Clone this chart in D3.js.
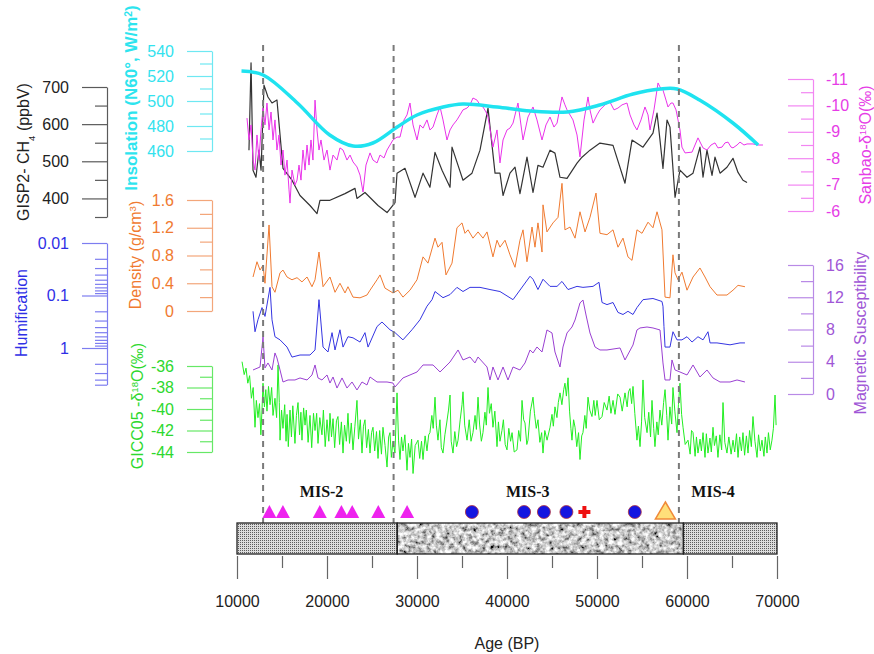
<!DOCTYPE html>
<html>
<head>
<meta charset="utf-8">
<script src="https://cdn.jsdelivr.net/npm/d3@7"></script>
<style>
  body { margin: 0; background: #fff; }
  svg text { font-family: "Liberation Sans", Arial, sans-serif; }
</style>
</head>
<body>
<svg id="chart" width="874" height="654">
  <defs>
    <pattern id="fine" width="2" height="2" patternUnits="userSpaceOnUse">
      <rect width="2" height="2" fill="#dcdcdc"></rect>
      <rect width="1" height="1" fill="#5c5c5c"></rect>
    </pattern>
    <filter id="granite" x="0" y="0" width="1" height="1">
      <feTurbulence type="fractalNoise" baseFrequency="0.22" numOctaves="3" seed="7"></feTurbulence>
      <feColorMatrix type="matrix" values="1.8 0 0 0 -0.32  1.8 0 0 0 -0.32  1.8 0 0 0 -0.32  0 0 0 0 1"></feColorMatrix>
    </filter>
  </defs>
</svg>
<script>
// ---- data (age in years BP) ----
var ch4 = [[11330,530],[11560,765],[11780,476],[12110,457],[12440,530],[12670,476],[13000,705],[13440,673],[13890,657],[14440,665],[15110,481],[16110,449],[17000,408],[18110,381],[18890,359],[19220,395],[20330,395],[22000,413],[23110,427],[23330,400],[24220,416],[25670,381],[26670,362],[27560,389],[27780,468],[28670,481],[29780,403],[30670,468],[31440,430],[32000,524],[32780,476],[33670,430],[33890,538],[34560,489],[35110,449],[36110,468],[37000,530],[37890,643],[38670,468],[39220,468],[39560,408],[40330,468],[40890,484],[41440,413],[42220,511],[42890,416],[43440,489],[44000,484],[44780,530],[45330,522],[45890,457],[46670,454],[47780,495],[48330,511],[49220,530],[50330,549],[51780,543],[53110,441],[53890,557],[55110,538],[56220,576],[56670,630],[57000,557],[57330,481],[57780,611],[58110,592],[58670,403],[59220,476],[60000,457],[60670,468],[61440,538],[61780,457],[62220,530],[62780,462],[63110,511],[63670,468],[64440,484],[65110,508],[65670,470],[66220,449],[66670,443]];

var insolation = [[10500,524],[12900,520.8],[16700,498.4],[20300,472.8],[22900,464],[25100,466.4],[27800,479.2],[30000,488.8],[32900,495.2],[35100,497.6],[38900,495.2],[42600,492],[46700,491.2],[50300,496.8],[54000,505.6],[57000,509.6],[58900,509.6],[61400,500.8],[65100,482.4],[67900,464.8]];

var sanbao = [[11110,-9.52],[11330,-8.69],[11560,-9.26],[11780,-7.93],[12000,-7.55],[12220,-8.88],[12440,-7.93],[12670,-9.07],[12890,-9.90],[13110,-9.26],[13330,-10.09],[13560,-9.07],[13780,-9.75],[14000,-8.69],[14220,-9.45],[14440,-8.31],[14670,-8.88],[14890,-7.74],[15110,-8.31],[15330,-7.36],[15560,-7.93],[15780,-6.80],[15890,-6.30],[16110,-7.55],[16440,-6.98],[16670,-7.17],[16890,-7.74],[17110,-7.17],[17330,-8.31],[17560,-7.55],[17780,-8.50],[18000,-7.74],[18220,-8.69],[18440,-7.93],[18670,-10.20],[18890,-9.07],[19110,-8.31],[19330,-8.69],[19670,-7.93],[20000,-8.31],[20330,-7.55],[20670,-8.12],[21110,-7.93],[21440,-8.39],[21780,-8.31],[22220,-7.93],[22560,-8.12],[22890,-7.86],[23330,-7.67],[23670,-7.36],[24000,-6.72],[24330,-7.74],[24780,-8.20],[25110,-7.93],[25560,-7.82],[25890,-8.12],[26330,-8.01],[26670,-8.31],[27000,-8.50],[27330,-8.69],[27780,-8.80],[28110,-8.80],[28560,-9.45],[28890,-9.64],[29220,-10.09],[29560,-9.26],[30000,-8.69],[30330,-9.26],[30670,-9.14],[31110,-9.45],[31440,-9.07],[31780,-9.18],[32220,-9.64],[32560,-9.94],[32890,-9.45],[33330,-8.69],[33670,-9.07],[34000,-9.26],[34440,-9.45],[34780,-9.64],[35110,-9.83],[35560,-9.90],[35890,-10.02],[36220,-10.28],[36670,-10.20],[37000,-10.02],[37330,-9.94],[37670,-9.75],[37890,-9.56],[38220,-8.88],[38440,-8.42],[38890,-9.07],[39220,-7.82],[39560,-8.69],[40000,-9.07],[40330,-9.14],[40670,-9.33],[41220,-10.09],[41780,-8.69],[42330,-9.56],[42890,-9.94],[43330,-9.45],[43890,-8.69],[44330,-9.26],[44780,-9.56],[45220,-9.18],[45560,-9.33],[46110,-10.32],[46440,-10.02],[46670,-9.83],[47000,-9.64],[47330,-9.45],[47780,-8.88],[48110,-8.05],[48560,-9.45],[49000,-10.32],[49220,-9.83],[49560,-9.33],[50000,-9.64],[50330,-9.83],[50890,-10.02],[51440,-10.13],[51890,-9.83],[52330,-9.90],[52780,-10.02],[53330,-10.09],[53670,-9.64],[54110,-9.26],[54440,-9.07],[54890,-9.45],[55330,-9.94],[55670,-9.64],[55890,-9.07],[56330,-9.83],[56780,-10.85],[57000,-10.70],[57330,-10.58],[57670,-10.20],[57890,-9.94],[58220,-10.09],[58440,-10.09],[58780,-9.83],[59000,-9.45],[59220,-9.07],[59440,-8.42],[59780,-8.20],[60560,-8.23],[61220,-8.77],[61780,-8.39],[62220,-8.31],[62670,-8.50],[63110,-8.58],[63440,-8.39],[63890,-8.42],[64220,-8.58],[64560,-8.61],[64890,-8.42],[65110,-8.39],[65560,-8.50],[65890,-8.61],[66330,-8.50],[66670,-8.54],[67330,-8.54],[67890,-8.50],[68440,-8.50]];

var density = [[11780,0.49],[12220,0.71],[12560,0.59],[12890,0.66],[13110,0.40],[13560,1.24],[13890,0.35],[14220,0.27],[14780,0.55],[15110,0.59],[15560,0.49],[16110,0.45],[16670,0.48],[17220,0.42],[17780,0.49],[18330,0.35],[18670,0.45],[19110,0.85],[19560,0.35],[20330,0.49],[20890,0.27],[21440,0.40],[22000,0.26],[22330,0.35],[22890,0.20],[23670,0.19],[24440,0.23],[24780,0.30],[25560,0.45],[25890,0.52],[26440,0.33],[27330,0.26],[27890,0.30],[28440,0.20],[29220,0.30],[30000,0.45],[30670,0.78],[31220,0.69],[32000,1.05],[32330,0.92],[32780,0.99],[33220,0.52],[33890,0.69],[34440,1.20],[35000,1.27],[35330,1.12],[35670,1.17],[36220,1.05],[36780,1.14],[37330,1.05],[37780,1.14],[38440,0.78],[38890,1.02],[39220,0.92],[39780,1.02],[40330,0.81],[40890,0.63],[41440,1.02],[41780,1.17],[42220,0.71],[42780,1.21],[43110,0.92],[43440,1.27],[43890,0.85],[44000,1.53],[44440,1.14],[45110,1.27],[45670,1.35],[46110,1.84],[46440,1.17],[47000,1.21],[47560,1.05],[48110,1.43],[48670,1.14],[49220,1.35],[49890,1.70],[50330,1.12],[51110,1.10],[51780,1.17],[52330,0.92],[52890,1.05],[53440,0.78],[53890,0.73],[54440,1.17],[55000,1.12],[55670,1.28],[56220,1.20],[56670,1.43],[57220,1.17],[57560,0.20],[58110,0.19],[58440,0.81],[58670,0.55],[59000,0.45],[59440,0.56],[60000,0.30],[60670,0.49],[61440,0.62],[62000,0.49],[62560,0.35],[63330,0.23],[64440,0.23],[65110,0.30],[65670,0.37],[66440,0.35]];

var humification = [[11780,0.20],[12000,0.49],[12330,0.29],[12780,0.17],[13110,0.25],[13670,0.070],[13890,0.29],[14220,0.61],[14780,0.70],[15560,0.96],[16110,1.49],[17000,1.36],[18110,1.36],[18670,1.09],[19110,0.12],[19560,0.96],[20110,1.19],[20560,0.51],[20890,1.09],[21440,0.45],[21780,0.96],[22330,0.61],[22890,0.64],[23670,0.77],[24220,0.51],[24560,0.96],[25560,0.39],[26110,0.32],[27000,0.45],[27560,0.51],[28440,0.70],[29440,0.45],[30330,0.29],[31110,0.16],[31670,0.12],[32000,0.084],[32890,0.11],[33670,0.096],[34440,0.070],[35110,0.084],[35890,0.070],[37000,0.070],[38110,0.077],[39220,0.084],[40670,0.12],[42560,0.043],[42890,0.049],[43440,0.077],[44000,0.049],[44780,0.067],[45560,0.067],[46110,0.054],[46780,0.077],[47780,0.067],[48440,0.070],[49560,0.067],[50220,0.056],[50560,0.136],[51110,0.149],[51780,0.136],[52330,0.21],[52890,0.23],[53440,0.20],[54000,0.23],[54440,0.17],[55110,0.12],[56220,0.114],[57220,0.13],[57330,0.16],[57440,0.39],[57560,0.96],[58110,0.96],[58440,0.49],[58890,0.70],[59440,0.70],[60000,0.61],[60560,0.77],[61220,0.61],[61780,0.70],[62330,0.49],[62560,0.80],[63330,0.80],[64780,0.87],[65890,0.80],[66440,0.80]];

var magsus = [[11780,2.98],[12560,3.35],[12890,7.07],[13110,3.23],[13440,3.85],[13890,2.98],[14220,5.09],[14440,4.47],[14780,2.98],[15110,1.49],[15670,1.74],[16440,1.74],[17000,1.99],[17780,1.74],[18330,2.36],[18670,3.60],[19000,1.99],[19440,1.74],[20000,2.36],[20330,1.36],[20670,2.11],[21110,0.74],[21670,1.99],[22220,0.74],[22780,1.49],[23330,0.50],[23890,1.49],[24440,1.12],[24780,2.11],[25560,1.49],[26670,1.49],[27330,1.36],[27560,0.87],[28440,1.99],[30000,2.73],[30670,3.60],[31780,3.60],[32560,2.73],[33670,3.97],[34560,5.46],[35110,4.22],[35890,4.59],[36440,3.85],[36780,4.59],[37780,3.35],[38110,1.74],[38440,3.35],[39000,1.74],[39560,3.35],[40110,1.74],[40670,3.35],[41440,2.98],[42000,3.85],[42560,5.46],[42890,5.09],[43330,5.83],[43890,5.21],[44440,7.94],[45000,7.57],[45330,5.21],[45890,3.35],[46220,5.83],[46670,7.57],[47220,8.31],[47560,9.18],[48110,11.29],[48440,11.66],[48780,9.80],[49220,7.57],[49780,5.83],[50330,5.46],[51110,5.46],[52560,5.71],[53110,4.22],[54000,6.08],[54440,7.94],[54780,8.19],[55560,8.31],[56220,8.19],[57000,7.94],[57330,3.85],[57560,1.74],[58110,1.74],[58330,4.22],[58670,2.98],[59220,2.73],[60000,2.36],[60670,3.60],[61440,2.11],[62220,2.98],[62890,1.99],[63670,1.49],[64780,1.49],[65560,1.74],[66440,1.49]];

var gicc05 = [[10560,-35.6],[10800,-36.8],[11000,-36.2],[11200,-37.6],[11400,-36.9],[11600,-39.0],[11800,-38.0],[12000,-41.7],[12150,-39.2],[12330,-40.8],[12500,-39.5],[12650,-42.4],[12780,-40.0],[12890,-37.6],[13050,-39.8],[13200,-38.2],[13330,-40.2],[13500,-37.9],[13670,-39.6],[13850,-38.0],[14000,-40.6],[14220,-39.0],[14400,-40.8],[14560,-35.9],[14700,-39.4],[14780,-42.9],[14950,-40.1],[15110,-41.8],[15300,-39.6],[15450,-43.0],[15560,-40.5],[15700,-43.5],[15890,-40.1],[16050,-42.6],[16200,-39.7],[16440,-43.2],[16600,-40.6],[16780,-39.4],[16950,-42.4],[17100,-40.3],[17220,-42.9],[17400,-39.9],[17560,-41.5],[17700,-40.1],[17900,-43.1],[18110,-40.6],[18300,-43.6],[18500,-40.4],[18670,-42.0],[18850,-40.4],[19000,-43.2],[19200,-40.8],[19440,-42.4],[19600,-40.1],[19800,-43.5],[20000,-41.0],[20200,-43.0],[20330,-40.4],[20500,-42.6],[20670,-40.9],[20850,-43.6],[21050,-41.1],[21220,-40.7],[21400,-43.3],[21600,-41.2],[21780,-44.1],[21950,-41.5],[22150,-43.0],[22330,-40.4],[22500,-43.2],[22700,-41.3],[22890,-43.8],[23100,-41.6],[23330,-39.2],[23500,-42.8],[23700,-41.0],[23890,-44.1],[24050,-41.6],[24220,-41.0],[24400,-43.6],[24600,-41.9],[24780,-44.1],[24950,-42.2],[25110,-41.7],[25300,-43.9],[25500,-42.1],[25670,-44.6],[25850,-42.0],[26050,-44.2],[26220,-41.7],[26450,-43.4],[26670,-45.4],[26850,-42.6],[27000,-42.2],[27150,-44.5],[27330,-43.0],[27550,-44.1],[27780,-38.5],[27950,-42.9],[28110,-44.7],[28280,-42.6],[28440,-43.9],[28650,-42.4],[28890,-45.7],[29050,-43.2],[29220,-44.5],[29400,-42.8],[29560,-46.0],[29800,-43.4],[30110,-42.9],[30300,-44.6],[30500,-43.0],[30670,-44.7],[30900,-42.5],[31110,-43.9],[31300,-42.4],[31440,-42.2],[31650,-40.6],[31800,-41.8],[32000,-38.9],[32150,-41.5],[32330,-42.9],[32550,-41.0],[32700,-43.6],[32890,-44.1],[33100,-42.4],[33300,-41.3],[33500,-40.1],[33670,-38.7],[33800,-43.0],[34000,-44.1],[34200,-42.1],[34400,-43.5],[34560,-42.9],[34800,-41.0],[35000,-39.6],[35110,-38.4],[35300,-41.5],[35560,-42.9],[35800,-41.0],[36000,-43.0],[36220,-42.2],[36450,-40.6],[36600,-41.9],[36780,-38.9],[36950,-41.4],[37150,-43.0],[37330,-42.2],[37550,-40.3],[37700,-41.5],[37890,-38.0],[38050,-40.4],[38250,-39.5],[38440,-41.7],[38650,-40.2],[38890,-43.5],[39050,-41.2],[39220,-43.0],[39440,-42.0],[39600,-41.0],[39800,-43.3],[40000,-43.8],[40200,-41.8],[40400,-43.0],[40560,-42.2],[40800,-44.0],[41110,-43.8],[41300,-42.0],[41500,-43.0],[41670,-39.2],[41850,-41.0],[42000,-41.3],[42200,-43.3],[42330,-42.9],[42600,-40.2],[42890,-38.9],[43050,-40.4],[43250,-41.8],[43440,-41.0],[43650,-43.1],[43850,-42.2],[44000,-44.1],[44200,-42.0],[44450,-42.9],[44780,-41.7],[45000,-40.5],[45150,-41.6],[45330,-39.8],[45550,-40.8],[45700,-39.4],[45890,-38.5],[46100,-39.6],[46300,-38.2],[46440,-37.6],[46600,-38.8],[46780,-37.1],[46950,-40.2],[47100,-41.8],[47220,-42.9],[47400,-41.0],[47560,-41.7],[47750,-43.5],[47950,-42.2],[48110,-44.7],[48300,-42.5],[48440,-42.2],[48650,-40.6],[48800,-41.8],[49000,-38.9],[49200,-40.1],[49440,-40.7],[49650,-39.2],[49800,-40.6],[50000,-39.2],[50250,-41.0],[50560,-40.7],[50800,-39.4],[51110,-40.1],[51350,-38.8],[51550,-40.4],[51780,-39.2],[52000,-40.5],[52300,-38.6],[52560,-38.9],[52800,-40.2],[53110,-38.5],[53350,-39.8],[53500,-38.4],[53670,-38.1],[53850,-39.5],[54000,-37.9],[54200,-40.4],[54440,-42.9],[54600,-41.6],[54780,-43.5],[54950,-41.2],[55110,-37.3],[55300,-40.8],[55560,-42.2],[55750,-40.3],[55950,-42.6],[56110,-39.2],[56300,-41.8],[56440,-43.5],[56650,-41.2],[56800,-42.4],[57000,-40.1],[57200,-41.5],[57400,-39.4],[57560,-38.2],[57750,-40.6],[57890,-42.9],[58100,-39.8],[58300,-41.4],[58440,-38.0],[58650,-40.2],[58890,-42.2],[59050,-39.6],[59220,-37.6],[59400,-40.5],[59560,-41.7],[59800,-43.3],[60110,-42.9],[60350,-44.2],[60500,-42.0],[60670,-42.2],[60900,-44.4],[61050,-42.6],[61220,-44.1],[61450,-42.8],[61600,-43.9],[61780,-42.2],[62000,-44.5],[62150,-42.3],[62330,-44.1],[62550,-42.7],[62700,-44.0],[62890,-41.7],[63050,-43.4],[63250,-42.5],[63440,-44.5],[63650,-42.4],[63850,-43.8],[64000,-39.4],[64200,-43.1],[64440,-44.1],[64650,-42.6],[64900,-44.2],[65110,-42.9],[65300,-44.0],[65500,-42.3],[65670,-44.5],[65850,-42.6],[66050,-43.9],[66220,-42.2],[66400,-44.3],[66600,-42.5],[66780,-44.1],[66950,-42.0],[67150,-43.5],[67330,-40.7],[67550,-43.0],[67780,-44.5],[67950,-42.4],[68150,-43.9],[68330,-42.9],[68550,-44.4],[68700,-42.6],[68890,-44.1],[69050,-42.2],[69250,-43.8],[69440,-42.9],[69600,-41.8],[69780,-38.7],[69900,-41.5]];

// event lines, lithology, dated samples
var dashAges = [12900, 27400, 59100];
var lithology = [[10000, 27800, 'fine'], [27800, 59600, 'granite'], [59600, 70000, 'fine']];
var misLabels = [['MIS-2', 19400], ['MIS-3', 42300], ['MIS-4', 62900]];
var triAges = [13600, 15100, 19200, 21600, 22800, 25700, 28900];
var circleAges = [36100, 41900, 44100, 46600, 54200];
var crossAges = [48600];
var yellowAges = [57600];

// tick values
var xTicks = [10000, 20000, 30000, 40000, 50000, 60000, 70000];
var xMinor = [15000, 25000, 35000, 45000, 55000, 65000];
var ch4Ticks = [400, 500, 600, 700], ch4Minor = [350, 450, 550, 650];
var insTicks = [460, 480, 500, 520, 540], insMinor = [470, 490, 510, 530];
var denTicks = [0, 0.4, 0.8, 1.2, 1.6], denMinor = [0.2, 0.6, 1.0, 1.4];
var humTicks = [0.01, 0.1, 1], humMinor = [0.02, 0.03, 0.04, 0.05, 0.06, 0.07, 0.08, 0.09, 0.2, 0.3, 0.4, 0.5, 0.6, 0.7, 0.8, 0.9, 2, 3, 4, 5];
var gicTicks = [-44, -42, -40, -38, -36], gicMinor = [-43, -41, -39, -37];
var sanTicks = [-11, -10, -9, -8, -7, -6], sanMinor = [-10.5, -9.5, -8.5, -7.5, -6.5];
var magTicks = [0, 4, 8, 12, 16], magMinor = [2, 6, 10, 14];

var svg = d3.select('#chart');

var x = d3.scaleLinear().domain([10000, 70000]).range([237, 777]);
var yCH4 = d3.scaleLinear().domain([350, 700]).range([217, 87]);
var yIns = d3.scaleLinear().domain([460, 540]).range([151, 51]);
var ySan = d3.scaleLinear().domain([-11, -6]).range([79, 211]);
var yDen = d3.scaleLinear().domain([0, 1.6]).range([311, 200]);
var yHum = d3.scaleLog().domain([0.01, 5]).range([243, 384.7]);
var yMag = d3.scaleLinear().domain([0, 16]).range([394, 265]);
var yGic = d3.scaleLinear().domain([-44, -36]).range([452, 366]);

function drawAxis(scale, xPos, major, minor, fmt, lineColor, textColor, side) {
  var g = svg.append('g').attr('transform', 'translate(' + xPos + ',0)');
  var ax = side === 'right' ? d3.axisRight : d3.axisLeft;
  var k = side === 'right' ? -1 : 1;
  g.append('g').call(ax(scale).tickValues(minor).tickSize(12 * k).tickSizeOuter(0).tickFormat(''))
    .select('.domain').remove();
  g.append('g').call(ax(scale).tickValues(major).tickSize(25 * k).tickSizeOuter(0).tickPadding(13).tickFormat(fmt));
  g.selectAll('line, path').attr('stroke', lineColor).attr('stroke-width', 1.2);
  g.selectAll('text').attr('fill', textColor).attr('font-size', 16)
    .attr('font-family', '"Liberation Sans", Arial, sans-serif');
}

function vTitle(cx, cy, color, parts, bold, size) {
  var t = svg.append('text')
    .attr('transform', 'translate(' + cx + ',' + cy + ') rotate(-90)')
    .attr('text-anchor', 'middle')
    .attr('dy', '0.35em')
    .attr('fill', color)
    .attr('font-size', size || 16)
    .attr('font-weight', bold ? 'bold' : 'normal');
  parts.forEach(function(p) {
    var s = t.append('tspan').text(p[0]);
    if (p[1]) s.attr('baseline-shift', p[1]).attr('font-size', (size || 16) * 0.6);
  });
}

var plain = function(d) { return String(d); };

drawAxis(yCH4, 107, ch4Ticks, ch4Minor, plain, '#5a5a5a', '#222', 'left');
drawAxis(yIns, 212, insTicks, insMinor, plain, '#6ee8f2', '#33e2ee', 'left');
drawAxis(yDen, 212, denTicks, denMinor, function(d) { return d === 0 ? '0' : d3.format('.1f')(d); }, '#f3a67a', '#f07a30', 'left');
drawAxis(yHum, 107, humTicks, humMinor, plain, '#7d7df0', '#2f2fe6', 'left');
drawAxis(yGic, 212, gicTicks, gicMinor, plain, '#66e866', '#2ed82e', 'left');
drawAxis(ySan, 813, sanTicks, sanMinor, plain, '#f286f2', '#e63ce6', 'right');
drawAxis(yMag, 813, magTicks, magMinor, plain, '#b98ae6', '#a056d6', 'right');

vTitle(23, 152, '#222', [['GISP2- CH'], ['4', 'sub'], [' (ppbV)']]);
vTitle(131, 98, '#2ee4ee', [['Insolation (N60°, W/m'], ['2', 'super'], [')']], true, 17);
vTitle(135, 255, '#f07a30', [['Density (g/cm'], ['3', 'super'], [')']]);
vTitle(21, 313, '#2f2fe6', [['Humification']]);
vTitle(137, 406, '#2ed82e', [['GICC05 -δ'], ['18', 'super'], ['O(‰)']]);
vTitle(865, 145, '#e63ce6', [['Sanbao-δ'], ['18', 'super'], ['O(‰)']]);
vTitle(860, 333, '#a056d6', [['Magnetic Susceptibility']]);

function series(data, yScale, color, width, curve) {
  var line = d3.line()
    .x(function(d) { return x(d[0]); })
    .y(function(d) { return yScale(d[1]); })
    .curve(curve || d3.curveLinear);
  svg.append('path').datum(data)
    .attr('d', line)
    .attr('fill', 'none')
    .attr('stroke', color)
    .attr('stroke-width', width)
    .attr('stroke-linejoin', 'round');
}

series(gicc05, yGic, '#22ee22', 1);
series(magsus, yMag, '#9a40d2', 1);
series(humification, yHum, '#3535e2', 1);
series(density, yDen, '#f07a30', 1);
series(ch4, yCH4, '#333333', 1.2);
series(sanbao, ySan, '#ea32ea', 1);
series(insolation, yIns, '#1fe3f0', 3.5, d3.curveCatmullRom);

// dashed event lines
svg.selectAll('.dash').data(dashAges).enter().append('line')
  .attr('x1', function(d) { return x(d); }).attr('x2', function(d) { return x(d); })
  .attr('y1', 45).attr('y2', 523)
  .attr('stroke', '#7a7a7a').attr('stroke-width', 2).attr('stroke-dasharray', '6,5');

// MIS labels
svg.selectAll('.mis').data(misLabels).enter().append('text')
  .attr('x', function(d) { return x(d[1]); }).attr('y', 497)
  .attr('text-anchor', 'middle')
  .style('font-family', '"Liberation Serif", "Times New Roman", serif')
  .attr('font-weight', 'bold').attr('font-size', 16).attr('fill', '#111')
  .text(function(d) { return d[0]; });

// dated samples
var my = 512;
svg.selectAll('.tri').data(triAges).enter().append('path')
  .attr('d', 'M0,-7L7,6L-7,6Z')
  .attr('transform', function(d) { return 'translate(' + x(d) + ',' + my + ')'; })
  .attr('fill', '#ee22ee');
svg.selectAll('.dot').data(circleAges).enter().append('circle')
  .attr('cx', function(d) { return x(d); }).attr('cy', my).attr('r', 6.5)
  .attr('fill', '#1515e0').attr('stroke', '#b03040').attr('stroke-width', 0.8);
crossAges.forEach(function(d) {
  var g = svg.append('g').attr('transform', 'translate(' + x(d) + ',' + my + ')');
  g.append('line').attr('x1', -6).attr('x2', 6).attr('stroke', '#ee1111').attr('stroke-width', 4);
  g.append('line').attr('y1', -6).attr('y2', 6).attr('stroke', '#ee1111').attr('stroke-width', 4);
});
svg.selectAll('.ytri').data(yellowAges).enter().append('path')
  .attr('d', 'M0,-10L10,7L-10,7Z')
  .attr('transform', function(d) { return 'translate(' + x(d) + ',' + my + ')'; })
  .attr('fill', '#ffe07a').attr('stroke', '#f08a3a').attr('stroke-width', 1.5);

// lithology bar
var barY = 523, barH = 31;
svg.selectAll('.lith').data(lithology).enter().append('rect')
  .attr('x', function(d) { return x(d[0]); }).attr('y', barY)
  .attr('width', function(d) { return x(d[1]) - x(d[0]); }).attr('height', barH)
  .attr('fill', function(d) { return d[2] === 'fine' ? 'url(#fine)' : '#999'; })
  .attr('filter', function(d) { return d[2] === 'granite' ? 'url(#granite)' : null; });
svg.selectAll('.lithb').data(lithology).enter().append('rect')
  .attr('x', function(d) { return x(d[0]); }).attr('y', barY)
  .attr('width', function(d) { return x(d[1]) - x(d[0]); }).attr('height', barH)
  .attr('fill', 'none').attr('stroke', '#222').attr('stroke-width', 1.3);

// x axis
var xg = svg.append('g').attr('transform', 'translate(0,556)');
xg.append('g').call(d3.axisBottom(x).tickValues(xMinor).tickSize(12).tickFormat(''))
  .select('.domain').remove();
xg.append('g').call(d3.axisBottom(x).tickValues(xTicks).tickSize(23).tickPadding(17).tickFormat(plain))
  .select('.domain').remove();
xg.selectAll('line').attr('stroke', '#666').attr('stroke-width', 1.2);
xg.selectAll('text').attr('fill', '#222').attr('font-size', 16)
  .attr('font-family', '"Liberation Sans", Arial, sans-serif');

svg.append('text').attr('x', 507).attr('y', 649).attr('text-anchor', 'middle')
  .attr('font-size', 16).attr('fill', '#222').text('Age (BP)');
</script>
</body>
</html>
